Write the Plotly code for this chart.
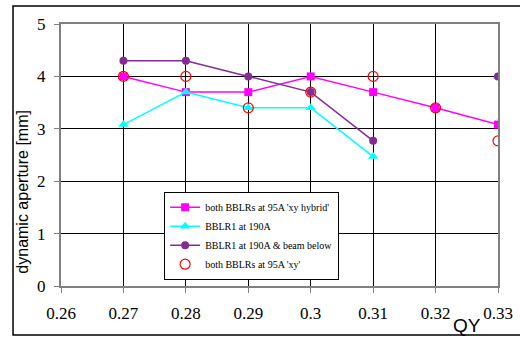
import plotly.graph_objects as go

qy = [0.27, 0.28, 0.29, 0.30, 0.31, 0.32, 0.33]
hybrid = [4.0, 3.7, 3.7, 4.0, 3.7, 3.4, 3.08]
bblr1 = [3.08, 3.7, 3.4, 3.4, 2.47, None, 4.0]
bblr1_below = [4.3, 4.3, 4.0, 3.7, 2.77, None, 4.0]
xy = [4.0, 4.0, 3.4, 3.7, 4.0, 3.4, 2.77]

x_ticks = [0.26, 0.27, 0.28, 0.29, 0.30, 0.31, 0.32, 0.33]
x_labels = ["0.26", "0.27", "0.28", "0.29", "0.3", "0.31", "0.32", "0.33"]
y_ticks = [0, 1, 2, 3, 4, 5]

names = ["both BBLRs at 95A 'xy hybrid'", "BBLR1 at 190A",
         "BBLR1 at 190A & beam below", "both BBLRs at 95A 'xy'"]

SERIF = "Liberation Serif, Times New Roman, Times, serif"
SANS = "Liberation Sans, Arial, Helvetica, sans-serif"

fig = go.Figure()
fig.add_trace(go.Scatter(x=qy, y=hybrid, name=names[0], mode="lines+markers",
                         line=dict(color="#FF00FF", width=1.5),
                         marker=dict(symbol="square", size=8, color="#FF00FF")))
fig.add_trace(go.Scatter(x=qy, y=bblr1, name=names[1], mode="lines+markers",
                         connectgaps=False,
                         line=dict(color="#00FFFF", width=1.5),
                         marker=dict(symbol="triangle-up", size=9, color="#00FFFF")))
fig.add_trace(go.Scatter(x=qy, y=bblr1_below, name=names[2], mode="lines+markers",
                         connectgaps=False,
                         line=dict(color="#862A96", width=1.5),
                         marker=dict(symbol="circle", size=8, color="#862A96")))
fig.add_trace(go.Scatter(x=qy, y=xy, name=names[3], mode="markers",
                         marker=dict(symbol="circle-open", size=10, color="#FF0000",
                                     line=dict(width=1.2))))

fig.update_layout(
    width=520, height=339,
    margin=dict(l=61, r=22, t=24, b=53, autoexpand=False),
    paper_bgcolor="white", plot_bgcolor="white",
    font=dict(family=SERIF, size=15, color="black"),
    showlegend=True,
    legend=dict(x=0.236, y=0.36, xanchor="left", yanchor="top",
                bgcolor="white", bordercolor="black", borderwidth=1,
                font=dict(family=SERIF, size=10),
                tracegroupgap=0, itemwidth=30),
    xaxis=dict(range=[0.26, 0.33], tickvals=x_ticks, ticktext=x_labels,
               showgrid=True, gridcolor="black", gridwidth=1,
               showline=True, linecolor="#808080", linewidth=2, mirror=True,
               ticks="outside", ticklen=5, tickcolor="#808080", zeroline=False,
               ticklabelstandoff=6,
               tickfont=dict(family=SERIF, size=17)),
    yaxis=dict(range=[0, 5], tickvals=y_ticks,
               showgrid=True, gridcolor="black", gridwidth=1,
               showline=True, linecolor="#808080", linewidth=2, mirror=True,
               ticks="outside", ticklen=5, tickcolor="#808080", zeroline=False,
               ticklabelstandoff=5,
               tickfont=dict(family=SERIF, size=17)),
    annotations=[
        dict(text="dynamic aperture [mm]", xref="paper", yref="paper",
             x=-0.087, y=0.36, textangle=-90, showarrow=False,
             xanchor="center", yanchor="middle",
             font=dict(family=SANS, size=16)),
        dict(text="QY", xref="paper", yref="paper", x=0.929, y=-0.149,
             showarrow=False, xanchor="center", yanchor="middle",
             font=dict(family=SANS, size=19)),
    ],
    shapes=[
        dict(type="rect", xref="paper", yref="paper",
             x0=-0.1098, x1=1.2, y0=-0.187, y1=1.0687,
             line=dict(color="black", width=1.5)),
    ],
)

fig.write_html("out.html", config={"displayModeBar": False},
               post_script="document.body.style.margin='0';")
